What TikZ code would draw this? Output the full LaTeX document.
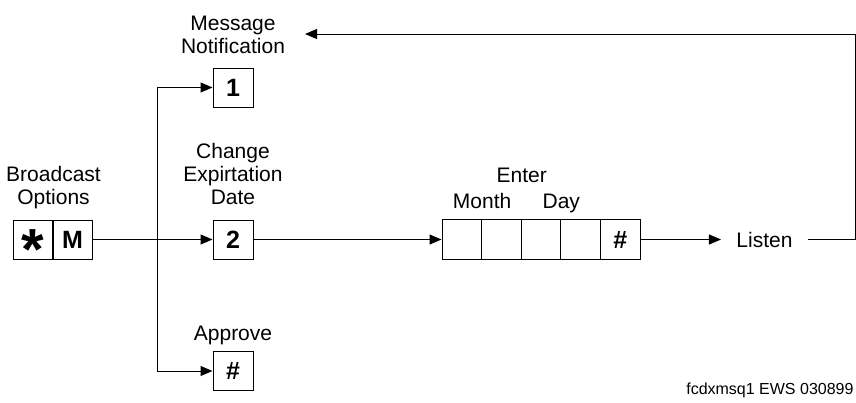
\documentclass[tikz,border=0pt]{standalone}
\usepackage{fontspec}
\setmainfont{Liberation Sans}
\usetikzlibrary{positioning, arrows.meta}
\tikzstyle{arrow} = [-{Triangle[length=6pt,width=5pt]}]
\tikzstyle{keybox} = [draw, minimum width=20pt, minimum height=19.5pt, inner sep=0pt, font=\fontsize{12.5}{14}\selectfont\bfseries]
\tikzstyle{cell} = [draw, minimum width=19.8pt, minimum height=20pt, inner sep=0pt, font=\fontsize{12.5}{14}\selectfont\bfseries]
\tikzstyle{label} = [align=center, inner sep=0pt, font=\fontsize{10.5}{11.5}\selectfont]

\begin{document}
\begin{tikzpicture}[x=0.5pt, y=-0.5pt, line width=0.5pt]
  \useasboundingbox (0,0) rectangle (856,402);
  % keys
  \node [keybox] (star) at (33,239.5) {\fontsize{29}{29}\selectfont\raisebox{-0.52em}[0pt][0pt]{*}};
  \node [keybox] (mkey) at (72.5,239.5) {M};
  \node [keybox] (one) at (233,87.5) {1};
  \node [keybox] (two) at (233,239.5) {2};
  \node [keybox] (pound) at (233,371) {\#};
  \coordinate (fork) at (157,239.5);
  % entry cells
  \node [cell] (c1) at (461.8,239.5) {};
  \node [cell] (c2) at (501.4,239.5) {};
  \node [cell] (c3) at (541,239.5) {};
  \node [cell] (c4) at (580.6,239.5) {};
  \node [cell] (c5) at (620.2,239.5) {\#};
  \node [label, inner xsep=7.5pt] (listen) at (764.5,239.5) {Listen};
  \coordinate (corner) at (855,34);
  \coordinate (back) at (305,34);
  % labels
  \node [label, above=5pt of star.north east] (bcast) {Broadcast\\Options};
  \node [label, above=6.5pt of one] (msg) {Message\\Notification};
  \node [label, above=7pt of two] (change) {Change\\Expirtation\\Date};
  \node [label, above=3pt of pound] (approve) {Approve};
  \node [label, anchor=base] (enter) at ([yshift=18.5pt]c2.north east) {Enter};
  \node [label, anchor=base] (month) at ([yshift=5.5pt]c1.north east) {Month};
  \node [label, anchor=base] (day) at ([yshift=5.5pt]c3.north east) {Day};
  \node [anchor=base east, inner sep=0pt, font=\fontsize{8}{9}\selectfont] (tag) at (854,394) {fcdxmsq1 EWS 030899};
  % connectors
  \draw [arrow] (mkey) -- (two);
  \draw [arrow] (fork) |- (one);
  \draw [arrow] (fork) |- (pound);
  \draw [arrow] (two) -- (c1);
  \draw [arrow] (c5) -- (listen);
  \draw [arrow] (listen) -| (corner) -- (back);
\end{tikzpicture}
\end{document}
